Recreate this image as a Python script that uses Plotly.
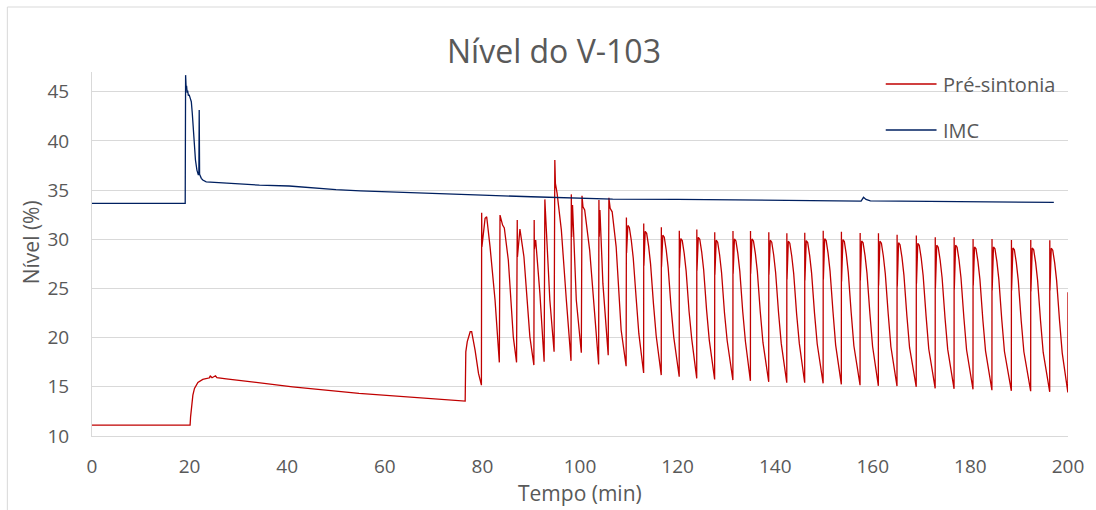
import plotly.graph_objects as go

# ---------------------------------------------------------------------------
# Nível do tanque V-103 (%) ao longo do tempo (min)
# ---------------------------------------------------------------------------

# IMC: nível estável, perturbação em ~19 min e acomodação lenta
imc_t = [0, 19.1, 19.18, 19.3, 19.38, 19.5, 19.6, 19.75, 19.9, 20.14, 20.35,
         20.55, 20.8, 21.2, 21.5, 21.8, 21.9, 21.97, 22.05, 22.4, 22.7, 23.4,
         26.1, 30.0, 34.3, 40.4, 45, 50, 55, 60, 71, 80, 90, 100, 106.7, 120,
         130, 139.4, 150, 157.6, 158.1, 158.6, 159.5, 170, 180, 190, 197.1]
imc_y = [33.65, 33.65, 46.68, 45.3, 45.6, 44.9, 45.1, 44.6, 44.7, 44.32, 43.98,
         42.8, 40.42, 38.05, 37.03, 36.52, 36.9, 43.13, 36.6, 36.19, 36.02,
         35.84, 35.74, 35.62, 35.5, 35.41, 35.22, 35.05, 34.92, 34.82, 34.66,
         34.48, 34.32, 34.2, 34.08, 34.05, 34.0, 33.92, 33.9, 33.88, 34.26,
         34.05, 33.9, 33.86, 33.82, 33.78, 33.75]

# Pré-sintonia: partida, rampa lenta e início das oscilações em ~76 min
pre_t_start = [0, 20.1, 20.2, 20.67, 21.0, 21.7, 22.7, 24.1, 24.2, 24.6, 25.3,
               25.6, 27.5, 34.3, 41.1, 54.7, 68.3, 76.47, 76.6, 76.9, 77.5,
               77.8, 78.5, 79.2, 79.8]
pre_y_start = [11.1, 11.1, 11.95, 14.16, 14.84, 15.45, 15.75, 15.92, 16.12,
               15.92, 16.12, 15.92, 15.81, 15.41, 15.0, 14.33, 13.82, 13.55,
               18.56, 19.6, 20.6, 20.6, 18.73, 16.36, 15.17]

# Pré-sintonia: ciclos (salto, pico, decaimento e vale)
pre_t_cycles = [
    [79.85, 79.9, 80.55, 80.88, 81.57, 82.59, 83.47],
    [83.61, 84.14, 84.49, 85.31, 86.33, 87.0],
    [87.14, 87.18, 87.69, 88.51, 89.73, 90.55],
    [90.61, 90.65, 90.92, 91.78, 92.65],
    [92.8, 92.85, 92.9, 93.82, 94.69],
    [94.84, 94.96, 95.31, 96.18, 97.2, 98.16],
    [98.22, 98.29, 98.47, 99.24, 100.27],
    [100.41, 100.61, 100.96, 101.98, 103.0, 103.82],
    [103.88, 103.94, 104.08, 104.69, 105.78],
    [105.92, 106.18, 106.59, 107.41, 108.43, 109.45],
    [109.51, 109.54, 109.81, 110.11, 110.51, 110.91, 111.51, 112.06, 113.04],
    [113.06, 113.09, 113.36, 113.66, 114.06, 114.46, 115.06, 115.61, 116.65],
    [116.67, 116.7, 116.97, 117.27, 117.67, 118.07, 118.67, 119.22, 120.33],
    [120.35, 120.38, 120.65, 120.95, 121.35, 121.75, 122.35, 122.9, 123.92],
    [123.94, 123.97, 124.24, 124.54, 124.94, 125.34, 125.94, 126.49, 127.59],
    [127.61, 127.64, 127.91, 128.21, 128.61, 129.01, 129.61, 130.16, 131.33],
    [131.35, 131.38, 131.65, 131.95, 132.35, 132.75, 133.35, 133.9, 134.92],
    [134.94, 134.97, 135.24, 135.54, 135.94, 136.34, 136.94, 137.49, 138.67],
    [138.69, 138.72, 138.99, 139.29, 139.69, 140.09, 140.69, 141.24, 142.37],
    [142.39, 142.42, 142.69, 142.99, 143.39, 143.79, 144.39, 144.94, 146.04],
    [146.06, 146.09, 146.36, 146.66, 147.06, 147.46, 148.06, 148.61, 149.82],
    [149.84, 149.87, 150.14, 150.44, 150.84, 151.24, 151.84, 152.39, 153.55],
    [153.57, 153.6, 153.87, 154.17, 154.57, 154.97, 155.57, 156.12, 157.39],
    [157.41, 157.44, 157.71, 158.01, 158.41, 158.81, 159.41, 159.96, 161.14],
    [161.16, 161.19, 161.46, 161.76, 162.16, 162.56, 163.16, 163.71, 164.96],
    [164.98, 165.01, 165.28, 165.58, 165.98, 166.38, 166.98, 167.53, 168.9],
    [168.92, 168.95, 169.22, 169.52, 169.92, 170.32, 170.92, 171.47, 172.78],
    [172.8, 172.83, 173.1, 173.4, 173.8, 174.2, 174.8, 175.35, 176.65],
    [176.67, 176.7, 176.97, 177.27, 177.67, 178.07, 178.67, 179.22, 180.53],
    [180.55, 180.58, 180.85, 181.15, 181.55, 181.95, 182.55, 183.1, 184.41],
    [184.43, 184.46, 184.73, 185.03, 185.43, 185.83, 186.43, 186.98, 188.39],
    [188.41, 188.44, 188.71, 189.01, 189.41, 189.81, 190.41, 190.96, 192.35],
    [192.37, 192.4, 192.67, 192.97, 193.37, 193.77, 194.37, 194.92, 196.25],
    [196.27, 196.3, 196.57, 196.87, 197.27, 197.67, 198.27, 198.82, 199.97],
    [200.0],
]
pre_y_cycles = [
    [32.7, 29.23, 32.12, 32.29, 29.23, 23.82, 17.48],
    [32.46, 31.44, 31.14, 27.89, 20.08, 17.48],
    [31.95, 28.2, 31.03, 28.22, 20.08, 17.21],
    [31.95, 29.0, 29.92, 24.5, 17.54],
    [34.05, 30.1, 33.0, 23.82, 18.56],
    [38.05, 35.68, 34.66, 30.93, 23.82, 17.64],
    [34.56, 30.22, 33.47, 23.82, 18.46],
    [34.42, 33.3, 32.97, 28.9, 22.12, 17.28],
    [33.98, 30.25, 32.97, 25.51, 18.22],
    [34.22, 33.14, 32.79, 29.23, 20.77, 17.1],
    [32.2, 28.6, 31.4, 31.2, 29.9, 28.1, 24.0, 20.4, 16.4],
    [31.6, 27.3, 30.8, 30.6, 29.3, 27.5, 23.4, 20.19, 16.19],
    [31.21, 27.2, 30.41, 30.21, 28.91, 27.11, 23.01, 20.02, 16.02],
    [30.86, 27.1, 30.06, 29.86, 28.56, 26.76, 22.66, 19.85, 15.85],
    [31.0, 26.8, 30.2, 30.0, 28.7, 26.9, 22.8, 19.75, 15.75],
    [30.7, 26.4, 29.9, 29.7, 28.4, 26.6, 22.5, 19.68, 15.68],
    [30.83, 26.5, 30.03, 29.83, 28.53, 26.73, 22.63, 19.61, 15.61],
    [30.83, 26.5, 30.03, 29.83, 28.53, 26.73, 22.63, 19.51, 15.51],
    [30.7, 26.4, 29.9, 29.7, 28.4, 26.6, 22.5, 19.41, 15.41],
    [30.6, 25.9, 29.8, 29.6, 28.3, 26.5, 22.4, 19.41, 15.41],
    [30.66, 25.8, 29.86, 29.66, 28.36, 26.56, 22.46, 19.35, 15.35],
    [30.86, 25.9, 30.06, 29.86, 28.56, 26.76, 22.66, 19.24, 15.24],
    [30.76, 25.7, 29.96, 29.76, 28.46, 26.66, 22.56, 19.17, 15.17],
    [30.63, 25.8, 29.83, 29.63, 28.33, 26.53, 22.43, 19.1, 15.1],
    [30.6, 25.3, 29.8, 29.6, 28.3, 26.5, 22.4, 19.07, 15.07],
    [30.45, 25.2, 29.65, 29.45, 28.15, 26.35, 22.25, 19.0, 15.0],
    [30.39, 25.5, 29.59, 29.39, 28.09, 26.29, 22.19, 18.84, 14.84],
    [30.19, 25.0, 29.39, 29.19, 27.89, 26.09, 21.99, 18.8, 14.8],
    [30.19, 24.9, 29.39, 29.19, 27.89, 26.09, 21.99, 18.74, 14.74],
    [30.02, 25.3, 29.22, 29.02, 27.72, 25.92, 21.82, 18.66, 14.66],
    [30.02, 24.8, 29.22, 29.02, 27.72, 25.92, 21.82, 18.59, 14.59],
    [29.92, 24.8, 29.12, 28.92, 27.62, 25.82, 21.72, 18.56, 14.56],
    [29.92, 24.7, 29.12, 28.92, 27.62, 25.82, 21.72, 18.49, 14.49],
    [29.89, 24.8, 29.09, 28.89, 27.59, 25.79, 21.69, 18.43, 14.43],
    [24.6],
]

pre_t = pre_t_start + [t for cyc in pre_t_cycles for t in cyc]
pre_y = pre_y_start + [y for cyc in pre_y_cycles for y in cyc]

series_names = ["Pré-sintonia", "IMC"]
series_colors = ["#C00000", "#002060"]

TEXT = "#595959"
GRID = "#D9D9D9"
FONT = "Open Sans"

fig = go.Figure()
fig.add_trace(go.Scatter(x=pre_t, y=pre_y, mode="lines", name=series_names[0],
                         line=dict(color=series_colors[0], width=1.3)))
fig.add_trace(go.Scatter(x=imc_t, y=imc_y, mode="lines", name=series_names[1],
                         line=dict(color=series_colors[1], width=1.3)))

# plot area: x 92..1072 px, y 72..436 px
L, R, T, B = 92, 1072, 72, 436
W, H = 1096, 510


def px(x):
    return (x - L) / (R - L)


def py(y):
    return (B - y) / (B - T)


shapes = [
    # chart border
    dict(type="rect", xref="paper", yref="paper", x0=px(7), x1=px(1110),
         y0=py(530), y1=py(7), line=dict(color=GRID, width=1), layer="below"),
]
annotations = [
    dict(text="Nível do V-103", xref="paper", yref="paper", x=px(556), y=py(50),
         showarrow=False, xanchor="center", yanchor="middle",
         font=dict(family=FONT, size=32, color=TEXT)),
    dict(text="Nível (%)", xref="paper", yref="paper", x=px(31), y=py(242),
         showarrow=False, textangle=-90, xanchor="center", yanchor="middle",
         font=dict(family=FONT, size=21, color=TEXT)),
    dict(text="Tempo (min)", xref="paper", yref="paper", x=px(582), y=py(493),
         showarrow=False, xanchor="center", yanchor="middle",
         font=dict(family=FONT, size=21, color=TEXT)),
]

# legend drawn as line samples with labels
for i, (name, color) in enumerate(zip(series_names, series_colors)):
    yy = 84 + i * 46
    shapes.append(dict(type="line", xref="paper", yref="paper",
                       x0=px(889), x1=px(940), y0=py(yy), y1=py(yy),
                       line=dict(color=color, width=1.3)))
    annotations.append(dict(text=name, xref="paper", yref="paper",
                            x=px(944), y=py(yy), showarrow=False,
                            xanchor="left", yanchor="middle",
                            font=dict(family=FONT, size=20, color=TEXT)))

fig.update_layout(
    width=W, height=H,
    margin=dict(l=L, r=W - R, t=T, b=H - B, pad=0),
    paper_bgcolor="white", plot_bgcolor="white",
    showlegend=False,
    font=dict(family=FONT, color=TEXT),
    shapes=shapes, annotations=annotations,
    xaxis=dict(range=[0, 200], tickmode="array",
               tickvals=list(range(0, 201, 20)),
               showgrid=False, zeroline=False, showline=True,
               linecolor=GRID, linewidth=1, ticks="",
               tickfont=dict(family=FONT, size=19, color=TEXT),
               ticklabelstandoff=13),
    yaxis=dict(range=[10, 47], tick0=10, dtick=5,
               showgrid=True, gridcolor=GRID, gridwidth=1,
               zeroline=False, showline=True, linecolor=GRID, linewidth=1,
               ticks="", tickfont=dict(family=FONT, size=19, color=TEXT),
               ticklabelstandoff=18),
)

fig.write_html("out.html")
